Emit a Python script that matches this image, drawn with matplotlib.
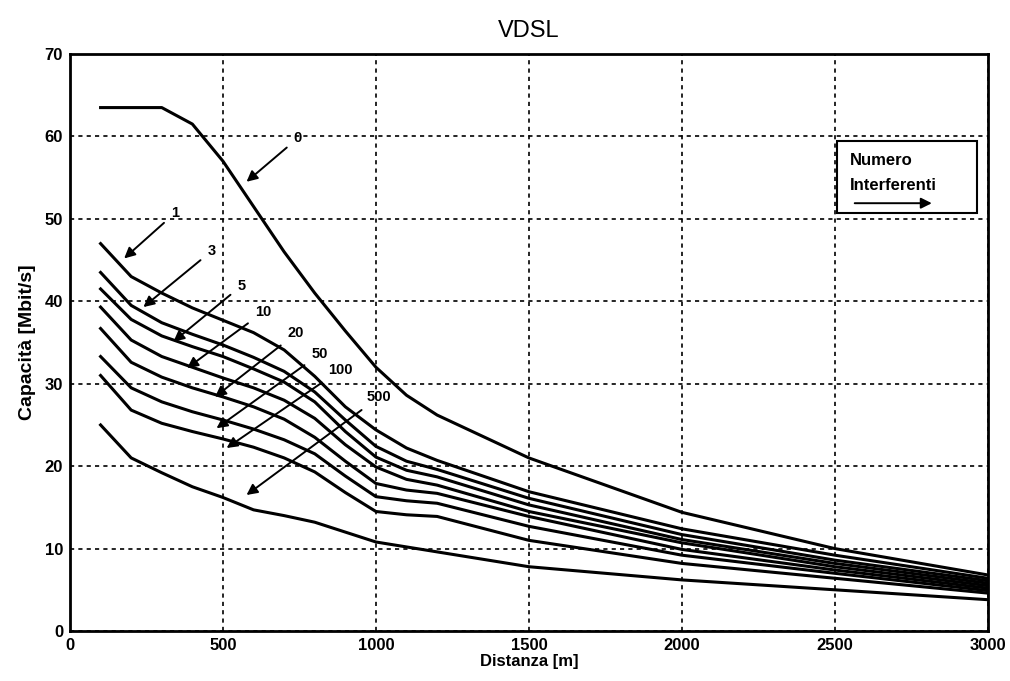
import matplotlib
matplotlib.use('Agg')
from matplotlib import pyplot as plt

plt.rcParams['font.family'] = ['Liberation Sans', 'DejaVu Sans']

# distance (m)
distanza = [100, 200, 300, 400, 500, 600, 700, 800, 900, 1000, 1100, 1200, 1500, 2000, 2500, 3000]

# capacity (Mbit/s) for each number of interferers
cap_0 = [63.5, 63.5, 63.5, 61.5, 57.0, 51.5, 46.0, 41.0, 36.4, 32.0, 28.6, 26.2, 21.0, 14.4, 10.0, 6.8]
cap_1 = [47.0, 43.0, 41.0, 39.2, 37.7, 36.2, 34.1, 30.9, 27.2, 24.4, 22.2, 20.7, 16.9, 12.4, 9.2, 6.4]
cap_3 = [43.5, 39.5, 37.4, 36.0, 34.7, 33.2, 31.5, 29.0, 25.6, 22.4, 20.6, 19.6, 16.1, 11.7, 8.6, 6.1]
cap_5 = [41.5, 37.8, 35.8, 34.5, 33.3, 31.8, 30.2, 27.8, 24.2, 21.1, 19.5, 18.7, 15.3, 11.1, 8.2, 5.8]
cap_10 = [39.3, 35.3, 33.3, 32.0, 30.7, 29.5, 28.0, 25.8, 22.6, 19.9, 18.4, 17.7, 14.5, 10.7, 7.8, 5.5]
cap_20 = [36.7, 32.6, 30.8, 29.5, 28.4, 27.2, 25.7, 23.5, 20.6, 17.9, 17.1, 16.7, 13.9, 9.9, 7.4, 5.2]
cap_50 = [33.3, 29.5, 27.8, 26.6, 25.6, 24.5, 23.2, 21.5, 18.8, 16.3, 15.8, 15.5, 12.7, 9.2, 7.0, 4.9]
cap_100 = [31.0, 26.8, 25.2, 24.2, 23.3, 22.3, 21.0, 19.3, 16.8, 14.5, 14.1, 13.9, 11.0, 8.2, 6.4, 4.6]
cap_500 = [25.0, 21.0, 19.2, 17.5, 16.2, 14.7, 14.0, 13.2, 12.0, 10.8, 10.2, 9.6, 7.8, 6.2, 5.0, 3.8]

curve_labels = ['0', '1', '3', '5', '10', '20', '50', '100', '500']
# label text position and arrow tip (data coords)
label_xy = [(745, 59.8), (343, 50.7), (463, 46.1), (561, 41.9), (632, 38.7),
            (739, 36.1), (817, 33.6), (885, 31.7), (1011, 28.4)]
arrow_tip = [(577, 54.5), (177, 45.2), (240, 39.3), (338, 35.1), (383, 31.9),
             (474, 28.4), (479, 24.6), (512, 22.2), (577, 16.5)]

x_ticks = [0, 500, 1000, 1500, 2000, 2500, 3000]
y_ticks = [0, 10, 20, 30, 40, 50, 60, 70]

fig = plt.figure(figsize=(10.1, 6.81), dpi=100)
ax = fig.add_axes([0.0693, 0.0734, 0.9087, 0.8473])

for c in [cap_0, cap_1, cap_3, cap_5, cap_10, cap_20, cap_50, cap_100, cap_500]:
	ax.plot(distanza, c, color='black', linewidth=2.2, solid_joinstyle='round')

ax.set_xlim(0, 3000)
ax.set_ylim(0, 70)
ax.set_xticks(x_ticks)
ax.set_yticks(y_ticks)
ax.tick_params(direction='in', length=0, labelsize=12, pad=5)
for lab in ax.get_xticklabels() + ax.get_yticklabels():
	lab.set_fontweight('bold')
ax.grid(True, color='black', linestyle=(0, (2.5, 2.5)), linewidth=1.2)
for s in ax.spines.values():
	s.set_linewidth(2.0)

ax.set_title('VDSL', fontsize=17, pad=12)
ax.set_xlabel('Distanza [m]', fontsize=12, fontweight='bold', labelpad=1)
ax.set_ylabel('Capacità [Mbit/s]', fontsize=14, fontweight='bold', labelpad=6)

for lab, txy, tip in zip(curve_labels, label_xy, arrow_tip):
	ax.annotate(lab, xy=tip, xytext=txy, fontsize=10.5, fontweight='bold',
				ha='center', va='center',
				arrowprops=dict(arrowstyle='-|>', color='black', lw=1.4,
								mutation_scale=16, shrinkA=4, shrinkB=0))

# "Numero Interferenti" box
box = plt.Rectangle((2506, 50.7), 459, 8.7, fill=True, facecolor='white',
					edgecolor='black', linewidth=1.5, zorder=3)
ax.add_patch(box)
ax.text(2548, 57.1, 'Numero', fontsize=12, fontweight='bold', va='center', zorder=4)
ax.text(2548, 54.1, 'Interferenti', fontsize=12, fontweight='bold', va='center', zorder=4)
ax.annotate('', xy=(2817, 51.9), xytext=(2565, 51.9), zorder=4,
			arrowprops=dict(arrowstyle='-|>', color='black', lw=1.4,
							mutation_scale=16, shrinkA=0, shrinkB=0))

fig.savefig('out.png', dpi=100)
